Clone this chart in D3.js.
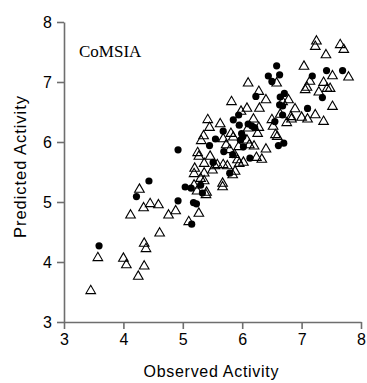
<!DOCTYPE html>
<html><head><meta charset="utf-8">
<script src="https://cdn.jsdelivr.net/npm/d3@7"></script>
<style>body{margin:0;background:#fff}svg{display:block}</style>
</head><body>
<svg id="c" width="367" height="383"></svg>
<script>
const xTicks = [3,4,5,6,7,8];
const yTicks = [3,4,5,6,7,8];
const xTitle = "Observed Activity";
const yTitle = "Predicted Activity";
const label = "CoMSIA";

// open triangles: [observed, predicted]
const triangles = [
[3.45,3.52],[3.57,4.07],[4.00,4.06],[4.05,3.95],[4.25,3.76],[4.35,3.93],[4.35,4.31],[4.38,4.22],
[4.12,4.78],[4.27,5.21],[4.34,4.90],[4.45,4.97],[4.59,4.95],[4.61,4.48],[4.76,4.78],[4.88,4.85],
[5.27,4.81],[5.10,4.67],[5.19,5.28],[5.19,5.47],[5.20,5.56],[5.25,5.82],[5.27,5.76],[5.30,5.39],
[5.36,5.48],[5.36,5.35],[5.39,5.12],[5.35,6.10],[5.31,6.02],[5.36,5.64],[5.42,6.37],[5.45,6.24],
[5.46,5.76],[5.50,5.53],[5.54,5.60],[5.63,6.30],[5.67,5.31],[5.67,5.25],[5.68,5.62],[5.68,6.05],
[5.73,5.95],[5.75,5.60],[5.79,5.87],[5.82,6.67],[5.81,6.14],[5.84,5.45],[5.88,5.51],[5.85,6.08],
[5.87,5.79],[5.92,5.70],[5.95,5.64],[5.94,5.92],[6.02,5.66],[5.98,6.51],[6.08,6.56],[6.10,6.98],
[6.08,6.03],[6.12,5.95],[6.10,6.23],[6.19,6.38],[6.20,5.93],[6.24,5.74],[6.26,6.14],[6.28,6.24],
[6.29,6.56],[6.28,6.84],[6.33,5.71],[6.40,5.88],[6.40,6.70],[6.50,6.37],[6.52,6.26],[6.56,6.12],
[6.59,6.09],[6.58,6.98],[6.64,6.46],[6.68,6.67],[6.75,6.32],[6.78,6.70],[6.82,6.42],[6.83,6.38],
[6.89,6.55],[7.00,6.41],[7.04,7.26],[7.06,6.87],[7.09,6.91],[7.10,6.38],[7.14,7.01],[7.23,6.45],
[7.23,7.59],[7.25,7.68],[7.29,6.83],[7.37,6.34],[7.37,6.99],[7.41,7.45],[7.43,6.89],[7.48,6.89],
[7.52,7.10],[7.52,6.59],[7.65,7.62],[7.71,7.54],[7.79,7.08],[5.24,5.18],[5.40,5.16],[5.58,5.62]
];
// filled circles: [observed, predicted]
const circles = [
[3.59,4.27],[4.22,5.09],[4.43,5.35],[4.92,5.87],[4.92,5.02],[5.04,5.25],[5.14,5.23],[5.18,4.99],
[5.23,4.97],[5.15,4.63],[5.30,5.28],[5.33,5.15],[5.45,5.94],[5.51,5.66],[5.55,6.05],[5.68,6.18],
[5.69,5.84],[5.79,5.48],[5.85,6.37],[5.84,5.79],[5.94,6.45],[5.95,6.28],[5.97,6.03],[5.99,6.14],
[6.02,5.92],[6.01,6.09],[6.10,6.30],[6.13,5.73],[6.16,6.27],[6.21,6.24],[6.23,6.76],[6.44,7.10],
[6.50,7.01],[6.58,7.27],[6.63,7.12],[6.55,6.34],[6.61,5.94],[6.70,5.98],[6.64,6.75],[6.68,6.45],
[6.71,6.81],[6.63,6.62],[6.68,6.60],[7.10,6.56],[7.18,7.10],[7.35,6.74],[7.42,7.19],[7.69,7.19]
];

const svg = d3.select("#c");
const x = d3.scaleLinear().domain([3,8]).range([64,361]);
const y = d3.scaleLinear().domain([3,8]).range([322,22]);
const axisColor = "#6e6e6e";

const gx = svg.append("g").attr("transform","translate(0,322)")
  .call(d3.axisBottom(x).tickValues(xTicks).tickSize(7).tickSizeOuter(0).tickPadding(5).tickFormat(d3.format("d")));
const gy = svg.append("g").attr("transform","translate(64,0)")
  .call(d3.axisLeft(y).tickValues(yTicks).tickSize(7).tickSizeOuter(0).tickPadding(5).tickFormat(d3.format("d")));
[gx,gy].forEach(g=>{
  g.select(".domain").attr("stroke",axisColor).attr("stroke-width",1.6);
  g.selectAll(".tick line").attr("stroke",axisColor).attr("stroke-width",1.6);
  g.selectAll(".tick text").attr("fill","#000").style("font-family","'Liberation Sans', Arial, sans-serif").style("font-size","16px");
});
gx.selectAll(".tick text").attr("dy","0.71em");

svg.append("text").attr("x",211).attr("y",377).attr("text-anchor","middle")
  .style("font-family","'Liberation Sans', Arial, sans-serif").style("font-size","16px")
  .attr("textLength",135).attr("lengthAdjust","spacing").text(xTitle);
svg.append("text").attr("transform","translate(26,167) rotate(-90)").attr("text-anchor","middle")
  .style("font-family","'Liberation Sans', Arial, sans-serif").style("font-size","16.5px")
  .attr("textLength",142).attr("lengthAdjust","spacing").text(yTitle);
svg.append("text").attr("x",79).attr("y",57)
  .style("font-family","'Liberation Serif', 'Times New Roman', serif").style("font-size","17px")
  .text(label);

const tri = d3.symbol().type(d3.symbolTriangle).size(40);
svg.append("g").selectAll("path").data(triangles).join("path")
  .attr("d",tri).attr("transform",d=>`translate(${x(d[0])},${y(d[1])})`)
  .attr("fill","none").attr("stroke","#000").attr("stroke-width",1.1);
svg.append("g").selectAll("circle").data(circles).join("circle")
  .attr("cx",d=>x(d[0])).attr("cy",d=>y(d[1])).attr("r",3.6).attr("fill","#000");
</script>
</body></html>
